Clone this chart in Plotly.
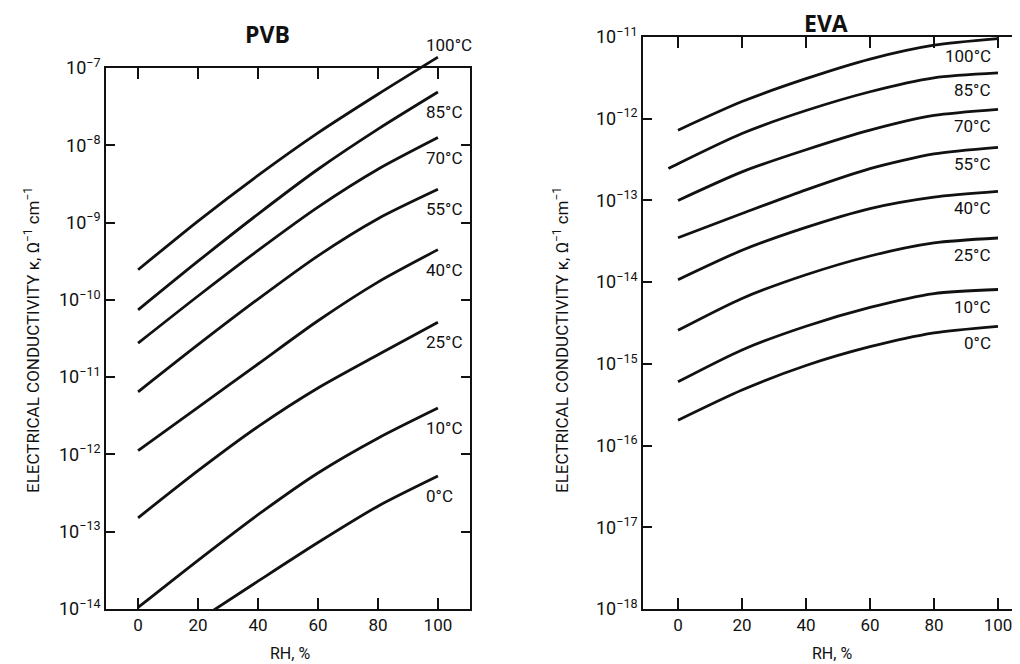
import plotly.graph_objects as go

# ---------------- data (log10 of conductivity) ----------------
RH = [0, 20, 40, 60, 80, 100]
RH_PVB_0C = [25, 40, 60, 80, 100]
RH_EVA_85C = [-3, 0, 20, 40, 60, 80, 100]

TEMPS = ["100°C", "85°C", "70°C", "55°C", "40°C", "25°C", "10°C", "0°C"]

pvb_100c = [-9.61, -8.98, -8.39, -7.84, -7.34, -6.86]
pvb_85c = [-10.13, -9.50, -8.89, -8.31, -7.79, -7.31]
pvb_70c = [-10.56, -9.95, -9.36, -8.80, -8.31, -7.90]
pvb_55c = [-11.19, -10.58, -9.99, -9.43, -8.95, -8.57]
pvb_40c = [-11.95, -11.39, -10.83, -10.27, -9.77, -9.35]
pvb_25c = [-12.82, -12.21, -11.64, -11.14, -10.71, -10.29]
pvb_10c = [-13.98, -13.37, -12.78, -12.24, -11.79, -11.40]
pvb_0c = [-14.02, -13.64, -13.14, -12.67, -12.28]

eva_100c = [-12.14, -11.79, -11.51, -11.27, -11.10, -11.02]
eva_85c = [-12.61, -12.55, -12.18, -11.90, -11.67, -11.50, -11.44]
eva_70c = [-13.00, -12.65, -12.38, -12.14, -11.96, -11.885]
eva_55c = [-13.456, -13.16, -12.87, -12.61, -12.43, -12.35]
eva_40c = [-13.97, -13.61, -13.33, -13.10, -12.96, -12.89]
eva_25c = [-14.59, -14.20, -13.91, -13.68, -13.52, -13.46]
eva_10c = [-15.22, -14.83, -14.54, -14.31, -14.14, -14.09]
eva_0c = [-15.69, -15.32, -15.02, -14.79, -14.62, -14.54]

X_TICKS = [0, 20, 40, 60, 80, 100]
X_TICK_LABELS = ["0", "20", "40", "60", "80", "100"]
PVB_DECADES = [-14, -13, -12, -11, -10, -9, -8, -7]
EVA_DECADES = [-18, -17, -16, -15, -14, -13, -12, -11]

PVB_SERIES = [
    (RH, pvb_100c), (RH, pvb_85c), (RH, pvb_70c), (RH, pvb_55c),
    (RH, pvb_40c), (RH, pvb_25c), (RH, pvb_10c), (RH_PVB_0C, pvb_0c),
]
EVA_SERIES = [
    (RH, eva_100c), (RH_EVA_85C, eva_85c), (RH, eva_70c), (RH, eva_55c),
    (RH, eva_40c), (RH, eva_25c), (RH, eva_10c), (RH, eva_0c),
]

# ---------------- layout geometry (page pixels) ----------------
W, H = 1020, 664
OFF = 8  # default page body margin
FONT = "Roboto, Liberation Sans, sans-serif"
INK = "#111111"

P_L, P_R, P_T, P_B = 106, 470, 68, 609
E_L, E_R, E_T, E_B = 643, 1026, 37, 609


def xd(px):
    return (px - OFF) / W


def yd(px):
    return 1 - (px - OFF) / H


PVB_XRANGE = [-10.7, 110.7]
EVA_XRANGE = [-10.94, 108.75]


def sup(d):
    return "10<sup>\u2212%d</sup>" % (-d)


axis_common = dict(
    showline=True, linecolor=INK, linewidth=1.6,
    ticks="inside", tickcolor=INK, tickwidth=1.6,
    showgrid=False, zeroline=False, automargin=False,
)
xtick_font = dict(family=FONT, size=17, color=INK)
ytick_font = dict(family=FONT, size=18, color=INK)

fig = go.Figure()

line_style = dict(color=INK, width=2.8, shape="spline", smoothing=0.7)

for i, (xs, ys) in enumerate(PVB_SERIES):
    axes = dict(xaxis="x3", yaxis="y3") if i == 0 else dict(xaxis="x", yaxis="y")
    fig.add_trace(go.Scatter(
        x=xs, y=[10 ** v for v in ys], mode="lines", line=line_style,
        name="PVB " + TEMPS[i], showlegend=False, hoverinfo="skip", **axes))

for i, (xs, ys) in enumerate(EVA_SERIES):
    fig.add_trace(go.Scatter(
        x=xs, y=[10 ** v for v in ys], mode="lines", line=line_style,
        name="EVA " + TEMPS[i], showlegend=False, hoverinfo="skip",
        xaxis="x2", yaxis="y2"))

# hidden axis pair identical to PVB's but taller, so 100°C may pass the frame
EXT = 30
pvb_px_per_dec = (P_B - P_T) / (PVB_DECADES[-1] - PVB_DECADES[0])
ext_top = PVB_DECADES[-1] + EXT / pvb_px_per_dec

fig.update_layout(
    width=W, height=H,
    margin=dict(l=0, r=0, t=0, b=0, pad=0, autoexpand=False),
    paper_bgcolor="white", plot_bgcolor="rgba(0,0,0,0)",
    showlegend=False,
    xaxis=dict(axis_common, domain=[xd(P_L), xd(P_R)], range=PVB_XRANGE,
               tickvals=X_TICKS, ticktext=X_TICK_LABELS, ticklen=11,
               tickfont=xtick_font, mirror="ticks", anchor="y"),
    yaxis=dict(axis_common, domain=[yd(P_B), yd(P_T)], type="log",
               range=[PVB_DECADES[0], PVB_DECADES[-1]],
               tickvals=[10 ** d for d in PVB_DECADES],
               ticktext=[sup(d) for d in PVB_DECADES], ticklen=9,
               tickfont=ytick_font, mirror="ticks", anchor="x"),
    xaxis2=dict(axis_common, domain=[xd(E_L), xd(E_R)], range=EVA_XRANGE,
                tickvals=X_TICKS, ticktext=X_TICK_LABELS, ticklen=11,
                tickfont=xtick_font, mirror="ticks", anchor="y2"),
    yaxis2=dict(axis_common, domain=[yd(E_B), yd(E_T)], type="log",
                range=[EVA_DECADES[0], EVA_DECADES[-1]],
                tickvals=[10 ** d for d in EVA_DECADES],
                ticktext=[sup(d) for d in EVA_DECADES], ticklen=9,
                tickfont=ytick_font, mirror="ticks", anchor="x2"),
    xaxis3=dict(domain=[xd(P_L), xd(P_R)], range=PVB_XRANGE, visible=False,
                anchor="y3"),
    yaxis3=dict(domain=[yd(P_B), yd(P_T - EXT)], type="log",
                range=[PVB_DECADES[0], ext_top], visible=False, anchor="x3"),
)

ann = []
label_font = dict(family=FONT, size=17, color=INK)
for i, (xs, ys) in enumerate(PVB_SERIES):
    ref = dict(xref="x3", yref="y3") if i == 0 else dict(xref="x", yref="y")
    ann.append(dict(x=95.3, y=ys[-1], text=TEMPS[i],
                    showarrow=False, xanchor="left", yanchor="middle",
                    yshift=(12 if i == 0 else -20), font=label_font, **ref))
for i, (xs, ys) in enumerate(EVA_SERIES):
    ann.append(dict(x=98.3, y=ys[-1], xref="x2", yref="y2", text=TEMPS[i],
                    showarrow=False, xanchor="right", yanchor="middle",
                    yshift=-17, font=label_font))

title_font = dict(family="Open Sans, Noto Sans, sans-serif", size=23, color=INK)
ann.append(dict(x=xd(267), y=yd(34), xref="paper", yref="paper",
                text="<b>PVB</b>", showarrow=False, font=title_font,
                xanchor="center", yanchor="middle"))
ann.append(dict(x=xd(826), y=yd(23), xref="paper", yref="paper",
                text="<b>EVA</b>", showarrow=False, font=title_font,
                xanchor="center", yanchor="middle", borderpad=0))

ytitle = "ELECTRICAL CONDUCTIVITY \u03ba, \u03a9<sup>\u22121</sup> cm<sup>\u22121</sup>"
axis_font = dict(family=FONT, size=17, color=INK)
ann.append(dict(x=xd(32), y=yd(340), xref="paper", yref="paper",
                text=ytitle, textangle=-90, showarrow=False, font=axis_font,
                xanchor="center", yanchor="middle"))
ann.append(dict(x=xd(561), y=yd(340), xref="paper", yref="paper",
                text=ytitle, textangle=-90, showarrow=False, font=axis_font,
                xanchor="center", yanchor="middle"))
ann.append(dict(x=xd(290), y=yd(653), xref="paper", yref="paper",
                text="RH, %", showarrow=False, font=dict(family=FONT, size=16, color=INK),
                xanchor="center", yanchor="middle"))
ann.append(dict(x=xd(832), y=yd(653), xref="paper", yref="paper",
                text="RH, %", showarrow=False, font=dict(family=FONT, size=16, color=INK),
                xanchor="center", yanchor="middle"))

fig.update_layout(annotations=ann)
fig.write_html("out.html")
